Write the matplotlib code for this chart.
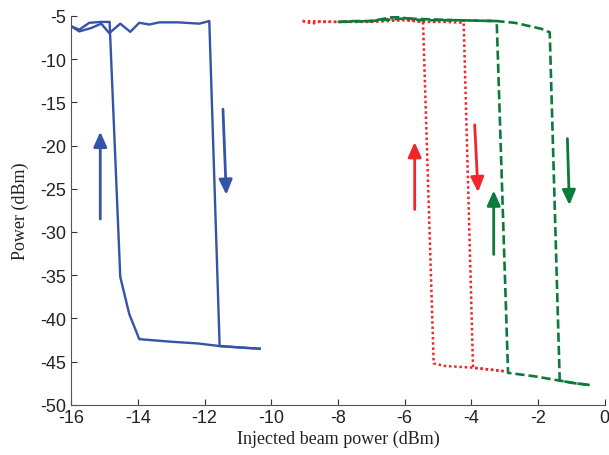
import matplotlib

matplotlib.use('Agg')

import matplotlib.pyplot as plt

plt.rcParams['axes.unicode_minus'] = False

BLUE = '#3454a8'
RED = '#f0262a'
GREEN = '#0c7a3c'

# blue loop: sweep up (increasing injected power) then back down
blue_up_x = [-16.0, -15.76, -15.4, -15.1, -14.86, -14.53, -14.23, -13.96, -13.66, -13.36, -12.8, -12.16, -11.86, -11.55, -10.8, -10.35]
blue_up_y = [-6.2, -6.8, -6.4, -5.9, -7.0, -5.9, -6.85, -5.8, -6.0, -5.75, -5.75, -5.9, -5.6, -43.2, -43.4, -43.5]
blue_dn_x = [-10.35, -10.8, -11.55, -12.2, -13.0, -13.96, -14.26, -14.53, -14.85, -15.1, -15.46, -15.76, -16.0]
blue_dn_y = [-43.5, -43.4, -43.2, -42.9, -42.7, -42.4, -39.5, -35.2, -5.7, -5.7, -5.8, -6.6, -6.2]

# red loop
red_up_x = [-9.06, -8.76, -8.6, -8.0, -7.0, -6.3, -5.43, -4.8, -4.23, -3.95, -3.5, -3.03]
red_up_y = [-5.6, -5.9, -5.7, -5.7, -5.6, -5.3, -5.7, -5.7, -5.8, -45.7, -45.9, -46.1]
red_dn_x = [-3.03, -3.5, -3.96, -4.8, -5.13, -5.45, -6.0, -7.0, -8.0, -9.06]
red_dn_y = [-46.1, -45.9, -45.7, -45.5, -45.2, -5.7, -5.5, -5.7, -5.7, -5.6]

# green loop
green_up_x = [-8.01, -7.5, -7.0, -6.3, -5.5, -4.5, -3.24, -2.7, -2.24, -1.9, -1.65, -1.35, -0.9, -0.45]
green_up_y = [-5.7, -5.6, -5.6, -5.1, -5.5, -5.5, -5.6, -5.8, -6.2, -6.5, -6.9, -47.2, -47.5, -47.7]
green_dn_x = [-0.45, -0.9, -1.35, -2.1, -2.9, -3.24, -4.5, -6.0, -7.0, -8.01]
green_dn_y = [-47.7, -47.5, -47.2, -46.7, -46.3, -5.6, -5.5, -5.3, -5.6, -5.7]

# sweep direction arrows: (x_tail, y_tail, x_head, y_head, colour)
arrows = [
    (-15.13, -28.5, -15.13, -18.4, BLUE),
    (-11.45, -15.8, -11.35, -25.7, BLUE),
    (-5.7, -27.4, -5.7, -19.6, RED),
    (-3.9, -17.6, -3.8, -25.4, RED),
    (-3.33, -32.6, -3.33, -25.2, GREEN),
    (-1.12, -19.2, -1.06, -26.9, GREEN),
]

fig = plt.figure(figsize=(6.09, 4.56), dpi=100)
ax = fig.add_axes([0.117, 0.11, 0.876, 0.853])

ax.plot(blue_up_x, blue_up_y, color=BLUE, linewidth=1.7)
ax.plot(blue_dn_x, blue_dn_y, color=BLUE, linewidth=1.7)
ax.plot(red_up_x, red_up_y, color=RED, linewidth=1.8, linestyle=(0, (1, 1.1)))
ax.plot(red_dn_x, red_dn_y, color=RED, linewidth=1.8, linestyle=(0, (1, 1.1)))
ax.plot(green_up_x, green_up_y, color=GREEN, linewidth=1.9, linestyle=(0, (3.5, 1.5)))
ax.plot(green_dn_x, green_dn_y, color=GREEN, linewidth=1.9, linestyle=(0, (3.5, 1.5)))

for x0, y0, x1, y1, c in arrows:
    ax.annotate('', xy=(x1, y1), xytext=(x0, y0),
                arrowprops=dict(arrowstyle='-|>,head_length=0.9,head_width=0.4',
                                color=c, lw=2, shrinkA=0, shrinkB=0))

ax.set_xlim(-16, 0)
ax.set_ylim(-50, -5)
ax.set_xticks(range(-16, 1, 2))
ax.set_yticks(range(-50, -4, 5))
ax.spines[['top', 'right']].set_visible(False)
ax.spines[['left', 'bottom']].set_color('#555555')
ax.tick_params(direction='in', length=4, colors='#333333', labelsize=13)
ax.tick_params(axis='x', pad=3)
for lab in ax.get_xticklabels() + ax.get_yticklabels():
    lab.set_fontfamily('Liberation Sans')
    lab.set_color('#222222')

ax.set_xlabel('Injected beam power (dBm)', family='Liberation Serif', fontsize=13, color='#222222', labelpad=3)
ax.set_ylabel('Power (dBm)', family='Liberation Serif', fontsize=13, color='#222222', labelpad=8)

fig.savefig('out.png', dpi=100, facecolor='white')
